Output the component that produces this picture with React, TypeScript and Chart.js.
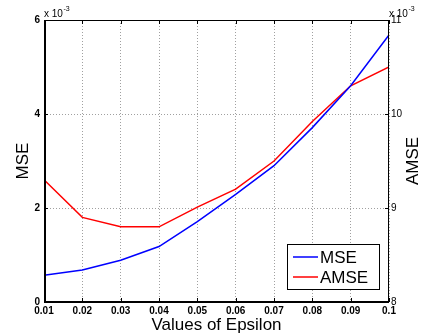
import React, { useEffect, useRef } from "react";
import { Chart, registerables } from "chart.js";

Chart.register(...registerables);

// Data (values in units of 1e-3)
const epsilon = [0.01, 0.02, 0.03, 0.04, 0.05, 0.06, 0.07, 0.08, 0.09, 0.1];
const mseValues = [0.57, 0.68, 0.89, 1.18, 1.71, 2.29, 2.9, 3.71, 4.6, 5.68];
const amseValues = [9.3, 8.9, 8.8, 8.8, 9.01, 9.2, 9.5, 9.92, 10.3, 10.5];
const seriesLabels = ["MSE", "AMSE"];
const xTitle = "Values of Epsilon";
const exponentBase = "x 10";
const exponentPower = "-3";

const FONT = "'Liberation Sans', Arial, Helvetica, sans-serif";

const decorPlugin = {
  id: "decor",
  afterDraw(chart: any) {
    const { ctx, chartArea } = chart;
    const { left, right, top, bottom } = chartArea;
    const xs = chart.scales.x;
    const yl = chart.scales.y;
    const yr = chart.scales.y1;
    ctx.save();
    // tick marks inward
    ctx.strokeStyle = "#000";
    ctx.lineWidth = 1;
    ctx.beginPath();
    xs.ticks.forEach((t: any) => {
      const px = Math.round(xs.getPixelForValue(t.value)) + 0.5;
      ctx.moveTo(px, bottom);
      ctx.lineTo(px, bottom - 4);
      ctx.moveTo(px, top);
      ctx.lineTo(px, top + 4);
    });
    yl.ticks.forEach((t: any) => {
      const py = Math.round(yl.getPixelForValue(t.value)) + 0.5;
      ctx.moveTo(left, py);
      ctx.lineTo(left + 4, py);
    });
    yr.ticks.forEach((t: any) => {
      const py = Math.round(yr.getPixelForValue(t.value)) + 0.5;
      ctx.moveTo(right, py);
      ctx.lineTo(right - 4, py);
    });
    ctx.stroke();
    // frame
    ctx.beginPath();
    ctx.lineWidth = 1;
    ctx.moveTo(left, top + 0.5);
    ctx.lineTo(right, top + 0.5);
    ctx.moveTo(right - 0.5, top);
    ctx.lineTo(right - 0.5, bottom);
    ctx.stroke();
    ctx.beginPath();
    ctx.lineWidth = 2;
    ctx.moveTo(left + 1, top);
    ctx.lineTo(left + 1, bottom + 1);
    ctx.moveTo(left, bottom);
    ctx.lineTo(right, bottom);
    ctx.stroke();

    // axis titles
    ctx.fillStyle = "#000";
    ctx.font = `17px ${FONT}`;
    ctx.textAlign = "center";
    ctx.textBaseline = "middle";
    ctx.fillText(xTitle, (left + right) / 2, 325);
    ctx.save();
    ctx.translate(23, (top + bottom) / 2);
    ctx.rotate(-Math.PI / 2);
    ctx.fillText(seriesLabels[0], 0, 0);
    ctx.restore();
    ctx.save();
    ctx.translate(413, (top + bottom) / 2);
    ctx.rotate(-Math.PI / 2);
    ctx.fillText(seriesLabels[1], 0, 0);
    ctx.restore();

    // exponent labels
    const drawExp = (x: number) => {
      ctx.textAlign = "left";
      ctx.textBaseline = "alphabetic";
      ctx.font = `10px ${FONT}`;
      ctx.fillText(exponentBase, x, 17);
      const w = ctx.measureText(exponentBase).width;
      ctx.font = `7px ${FONT}`;
      ctx.fillText(exponentPower, x + w + 0.5, 11);
    };
    drawExp(left);
    drawExp(right);

    // legend
    const lx = 287.5, ly = 244.5, lw = 92, lh = 45;
    ctx.fillStyle = "#fff";
    ctx.fillRect(lx, ly, lw, lh);
    ctx.strokeStyle = "#000";
    ctx.lineWidth = 1;
    ctx.strokeRect(lx, ly, lw, lh);
    const ds = chart.data.datasets;
    const rows = [257, 277];
    ds.forEach((d: any, i: number) => {
      ctx.strokeStyle = d.borderColor;
      ctx.lineWidth = 1.5;
      ctx.beginPath();
      ctx.moveTo(293, rows[i]);
      ctx.lineTo(318, rows[i]);
      ctx.stroke();
      ctx.fillStyle = "#000";
      ctx.font = `17px ${FONT}`;
      ctx.textAlign = "left";
      ctx.textBaseline = "middle";
      ctx.fillText(d.label, 320, rows[i] + 1);
    });
    ctx.restore();
  },
};

export default function App() {
  const ref = useRef<HTMLCanvasElement>(null);
  useEffect(() => {
    if (!ref.current) return;
    const gridColor = "#a0a0a0";
    const chart = new Chart(ref.current, {
      type: "line",
      data: {
        datasets: [
          {
            label: seriesLabels[0],
            data: epsilon.map((x, i) => ({ x, y: mseValues[i] })),
            borderColor: "#0000ff",
            backgroundColor: "#0000ff",
            borderWidth: 1.5,
            pointRadius: 0,
            tension: 0,
            yAxisID: "y",
          },
          {
            label: seriesLabels[1],
            data: epsilon.map((x, i) => ({ x, y: amseValues[i] })),
            borderColor: "#ff0000",
            backgroundColor: "#ff0000",
            borderWidth: 1.5,
            pointRadius: 0,
            tension: 0,
            yAxisID: "y1",
          },
        ],
      },
      options: {
        responsive: false,
        animation: false,
        devicePixelRatio: 1,
        layout: { padding: { top: 20, left: 0, right: 0, bottom: 0 } },
        plugins: { legend: { display: false }, tooltip: { enabled: false } },
        scales: {
          x: {
            type: "linear",
            min: 0.01,
            max: 0.1,
            afterFit: (s: any) => {
              s.height = 34;
            },
            ticks: {
              stepSize: 0.01,
              autoSkip: false,
              maxRotation: 0,
              padding: 3,
              color: "#000",
              font: { family: FONT, size: 10, weight: "bold" },
              callback: (v: any) => (Math.abs(v - 0.1) < 1e-9 ? "0.1" : Number(v).toFixed(2)),
            },
            grid: { color: gridColor, drawTicks: false, lineWidth: 1 },
            border: { display: false, dash: [1, 2] },
          },
          y: {
            type: "linear",
            position: "left",
            min: 0,
            max: 6,
            afterFit: (s: any) => {
              s.width = 44;
            },
            ticks: {
              stepSize: 2,
              padding: 4,
              color: "#000",
              font: { family: FONT, size: 10, weight: "bold" },
            },
            grid: { color: gridColor, drawTicks: false, lineWidth: 1 },
            border: { display: false, dash: [1, 2] },
          },
          y1: {
            type: "linear",
            position: "right",
            min: 8,
            max: 11,
            afterFit: (s: any) => {
              s.width = 33;
            },
            ticks: {
              stepSize: 1,
              padding: 2,
              color: "#000",
              font: { family: FONT, size: 10 },
            },
            grid: { drawOnChartArea: false, drawTicks: false },
            border: { display: false },
          },
        },
      },
      plugins: [decorPlugin],
    });
    return () => chart.destroy();
  }, []);
  return (
    <div style={{ position: "fixed", left: 0, top: 0, width: 422, height: 336, background: "#fff" }}>
      <canvas ref={ref} width={422} height={336} />
    </div>
  );
}
